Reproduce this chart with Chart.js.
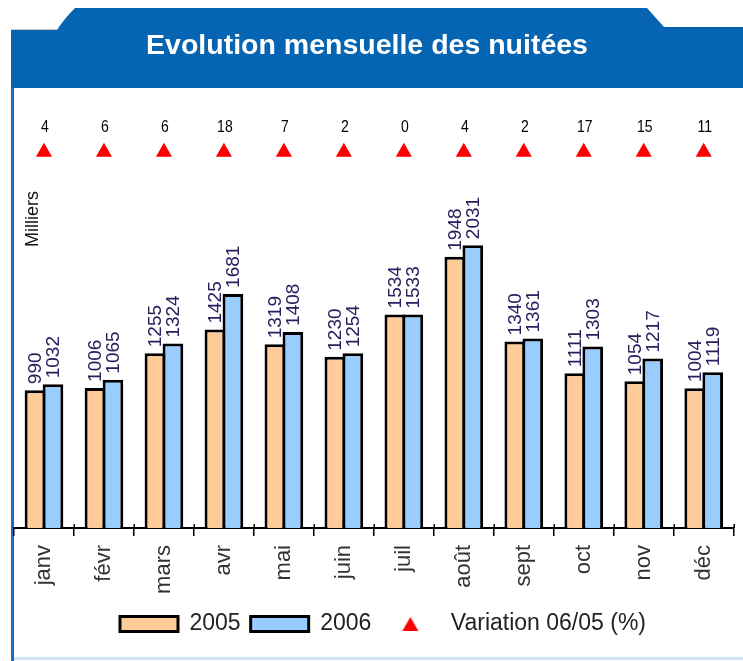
<!DOCTYPE html>
<html><head><meta charset="utf-8">
<script src="https://cdn.jsdelivr.net/npm/chart.js@4.4.1/dist/chart.umd.min.js"></script>
<style>html,body{margin:0;padding:0;background:#fff;overflow:hidden}#wrap{width:743px;height:661px;position:relative}</style>
</head><body><div id="wrap"><canvas id="c" width="743" height="661"></canvas></div>
<script>
const months = ['janv','févr','mars','avr','mai','juin','juil','août','sept','oct','nov','déc'];
const nuitees2005 = [990,1006,1255,1425,1319,1230,1534,1948,1340,1111,1054,1004];
const nuitees2006 = [1032,1065,1324,1681,1408,1254,1533,2031,1361,1303,1217,1119];
const variation = [4,6,6,18,7,2,0,4,2,17,15,11];
const variationRow = [1,1,1,1,1,1,1,1,1,1,1,1];
const titleText = 'Evolution mensuelle des nuitées';
const unitText = 'Milliers';
const seriesNames = ['2005','2006','Variation 06/05 (%)'];

const FAM = '"Liberation Sans", Arial, Helvetica, sans-serif';

const triCanvas = document.createElement('canvas');
triCanvas.width = 18; triCanvas.height = 16;
(function(){
  const g = triCanvas.getContext('2d');
  g.fillStyle = '#ff0000';
  g.beginPath(); g.moveTo(9,1); g.lineTo(17,15); g.lineTo(1,15); g.closePath(); g.fill();
})();

const framePlugin = {
  id: 'frame',
  afterLayout(chart) {
    // legend sits slightly right of centre in the original
    if (chart.legend) { chart.legend.left += 16; chart.legend.right += 16; }
  },
  beforeDraw(chart) {
    const ctx = chart.ctx;
    ctx.save();
    ctx.fillStyle = '#ffffff';
    ctx.fillRect(0, 0, chart.width, chart.height);
    // header band with tab
    ctx.fillStyle = '#0565B2';
    ctx.beginPath();
    ctx.moveTo(11, 30);
    ctx.lineTo(57, 30);
    ctx.quadraticCurveTo(64, 19, 75, 8);
    ctx.lineTo(647, 8);
    ctx.quadraticCurveTo(655, 17, 664, 27);
    ctx.lineTo(743, 27);
    ctx.lineTo(743, 88);
    ctx.lineTo(11, 88);
    ctx.closePath();
    ctx.fill();
    // faint line left of tab
    ctx.strokeStyle = '#c8c8c8';
    ctx.lineWidth = 1;
    ctx.beginPath(); ctx.moveTo(11, 29.5); ctx.lineTo(57, 29.5); ctx.stroke();
    // left border
    ctx.fillStyle = '#1a6cc0';
    ctx.fillRect(11, 88, 3, 573);
    // bottom border
    ctx.fillStyle = '#cfe2f3';
    ctx.fillRect(14, 657, 729, 3);
    ctx.restore();
  },
  afterDraw(chart) {
    // tick marks cross the axis line slightly upward
    const ctx = chart.ctx, xs = chart.scales.x, yb = chart.chartArea.bottom;
    ctx.save();
    ctx.strokeStyle = '#000';
    ctx.lineWidth = 1.5;
    for (let i = 1; i <= months.length; i++) {
      const px = i < months.length ? (xs.getPixelForValue(i - 1) + xs.getPixelForValue(i)) / 2
                                   : xs.getPixelForValue(i - 1) + (xs.getPixelForValue(1) - xs.getPixelForValue(0)) / 2;
      ctx.beginPath(); ctx.moveTo(Math.round(px) + 0.25, yb - 4); ctx.lineTo(Math.round(px) + 0.25, yb); ctx.stroke();
    }
    ctx.restore();
  }
};

const labelsPlugin = {
  id: 'valueLabels',
  afterDatasetsDraw(chart) {
    const ctx = chart.ctx;
    const ca = chart.chartArea;
    ctx.save();
    // bar values
    [0, 1].forEach(di => {
      const meta = chart.getDatasetMeta(di);
      const vals = chart.data.datasets[di].data;
      meta.data.forEach((el, i) => {
        ctx.save();
        ctx.translate(el.x, el.y - 6);
        ctx.rotate(-Math.PI / 2);
        ctx.font = '19px ' + FAM;
        ctx.fillStyle = '#27205e';
        ctx.textAlign = 'left';
        ctx.textBaseline = 'middle';
        ctx.fillText(String(vals[i]), 0, 1);
        ctx.restore();
      });
    });
    // variation numbers above triangles
    const tmeta = chart.getDatasetMeta(2);
    tmeta.data.forEach((el, i) => {
      ctx.save();
      ctx.translate(el.x + 1, el.y - 25);
      ctx.scale(0.85, 1);
      ctx.font = '16.5px ' + FAM;
      ctx.fillStyle = '#000';
      ctx.textAlign = 'center';
      ctx.textBaseline = 'middle';
      ctx.fillText(String(variation[i]), 0, 0);
      ctx.restore();
    });
    // unit label
    ctx.save();
    ctx.translate(ca.left + 19, ca.top + 95);
    ctx.rotate(-Math.PI / 2);
    ctx.font = '18px ' + FAM;
    ctx.fillStyle = '#111';
    ctx.textAlign = 'left';
    ctx.textBaseline = 'middle';
    ctx.fillText(unitText, 0, 0);
    ctx.restore();
    ctx.restore();
  }
};

new Chart(document.getElementById('c'), {
  type: 'bar',
  data: {
    labels: months,
    datasets: [
      { label: seriesNames[0], data: nuitees2005, backgroundColor: '#FFCC99', borderColor: '#000', borderWidth: 3,
        pointStyle: 'rect', categoryPercentage: 0.6, barPercentage: 1.15, yAxisID: 'y' },
      { label: seriesNames[1], data: nuitees2006, backgroundColor: '#99CCFF', borderColor: '#000', borderWidth: 3,
        pointStyle: 'rect', categoryPercentage: 0.6, barPercentage: 1.15, yAxisID: 'y' },
      { type: 'line', label: seriesNames[2], data: variationRow, yAxisID: 'y2', showLine: false,
        pointStyle: 'triangle', pointRadius: 9.3, pointHoverRadius: 9.3, backgroundColor: '#FF0000',
        borderColor: '#FF0000', borderWidth: 0, clip: false }
    ]
  },
  options: {
    responsive: false,
    animation: false,
    devicePixelRatio: 1,
    layout: { padding: { left: 0, right: 9, top: 0, bottom: 15.5 } },
    plugins: {
      tooltip: { enabled: false },
      title: {
        display: true, text: titleText, color: '#ffffff',
        font: { family: FAM, size: 28.5, weight: 'bold' },
        padding: { top: 29.5, bottom: 88.3 }
      },
      legend: {
        display: true, position: 'bottom',
        labels: {
          usePointStyle: true, pointStyleWidth: 58, boxHeight: 15, padding: 10,
          color: '#222', font: { family: FAM, size: 23 },
          generateLabels(chart) {
            const items = Chart.defaults.plugins.legend.labels.generateLabels(chart);
            items.forEach(it => { if (it.datasetIndex === 2) { it.pointStyle = triCanvas; it.lineWidth = 0; } else { it.lineWidth = 3; it.strokeStyle = '#000'; } });
            return items;
          }
        }
      }
    },
    scales: {
      x: {
        offset: true,
        grid: { display: true, drawOnChartArea: false, drawTicks: true, tickLength: 8, color: '#000', lineWidth: 1.5, offset: true },
        border: { display: true, color: '#000', width: 2 },
        ticks: { autoSkip: false, minRotation: 90, maxRotation: 90, padding: 9, color: '#333', font: { family: FAM, size: 22 } },
        afterFit(s) { s.height = 74.5; }
      },
      y: {
        display: true, min: 0, max: 2700,
        grid: { display: false, drawTicks: false },
        border: { display: false },
        ticks: { display: false },
        afterFit(s) { s.width = 14; }
      },
      y2: { display: false, min: 0, max: 1 }
    }
  },
  plugins: [framePlugin, labelsPlugin]
});
</script>
</body></html>
